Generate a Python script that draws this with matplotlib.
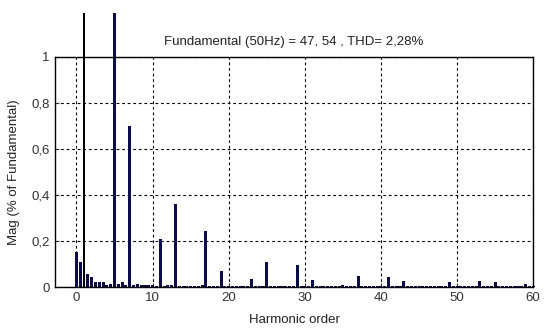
import numpy as np
import matplotlib.pyplot as plt

plt.rcParams['font.family'] = ['Liberation Sans', 'DejaVu Sans']

# harmonic order (0.5 step, 25 Hz resolution) and magnitude relative to fundamental
orders = np.arange(0, 60.5, 0.5)
mag = np.full(orders.shape, 0.004)
peaks = {0: 0.15, 0.5: 0.11, 1: 1.19, 1.5: 0.055, 2: 0.042, 2.5: 0.02, 3: 0.02,
         3.5: 0.02, 4: 0.01, 4.5: 0.015, 5: 1.19, 5.5: 0.015, 6: 0.02, 6.5: 0.01,
         7: 0.70, 7.5: 0.01, 8: 0.015, 8.5: 0.01, 9: 0.01, 9.5: 0.01, 10: 0.01,
         11: 0.21, 12: 0.01, 12.5: 0.01, 13: 0.36, 16.5: 0.01, 17: 0.245,
         19: 0.07, 23: 0.035, 25: 0.11, 29: 0.095, 31: 0.03, 35: 0.01,
         37: 0.05, 41: 0.045, 43: 0.025, 47: 0.006, 49: 0.02, 53: 0.025,
         55: 0.02, 59: 0.015}
for k, v in peaks.items():
    mag[np.isclose(orders, k)] = v

xticks = [0, 10, 20, 30, 40, 50, 60]
yticks = [0, 0.2, 0.4, 0.6, 0.8, 1]
ytick_labels = ['0', '0,2', '0,4', '0,6', '0,8', '1']
title = 'Fundamental (50Hz) = 47, 54 , THD= 2,28%'

fig = plt.figure(figsize=(5.48, 3.33), dpi=100)
ax = fig.add_axes([0.100, 0.138, 0.873, 0.692])

bars = ax.bar(orders, mag, width=0.4, color='#0c0c48', linewidth=0)
for o, b in zip(orders, bars):
    b.set_clip_on(False)
    if o == 1:
        # fundamental drawn as a thin black line
        b.set_width(0.26)
        b.set_x(o - 0.13)
        b.set_color('black')

ax.set_xlim(-2.85, 60)
ax.set_ylim(0, 1)
ax.set_xticks(xticks)
ax.set_yticks(yticks)
ax.set_yticklabels(ytick_labels)
ax.tick_params(direction='in', labelsize=9.5, length=3, colors='#333333')
ax.grid(True, color='black', linestyle=(0, (2.5, 2.5)), linewidth=0.8)
ax.set_axisbelow(True)
for s in ax.spines.values():
    s.set_linewidth(1.0)

ax.set_title(title, fontsize=9.5, color='#222222', pad=8)
ax.set_xlabel('Harmonic order', fontsize=9.5, color='#222222', labelpad=7)
ax.set_ylabel('Mag (% of Fundamental)', fontsize=9.5, color='#222222', labelpad=8)

plt.savefig('out.png', dpi=100)
